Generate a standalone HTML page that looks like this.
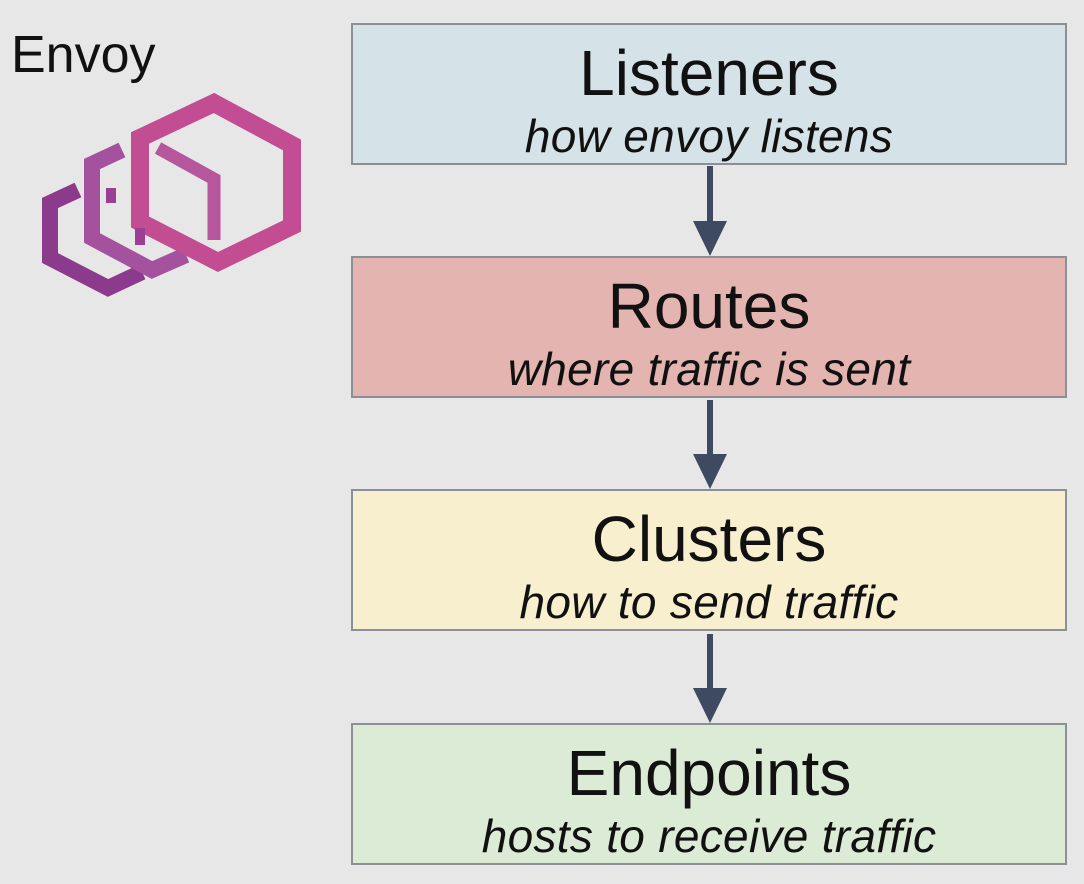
<!DOCTYPE html>
<html><head><meta charset="utf-8"><style>
html,body{margin:0;padding:0;}
body{width:1084px;height:884px;background:#e7e7e7;position:relative;overflow:hidden;font-family:"Liberation Sans",Arial,sans-serif;color:#111;}
.box{position:absolute;left:351px;width:716px;height:142px;border:2px solid #8c9096;box-sizing:border-box;}
.t{position:absolute;left:0;right:0;text-align:center;font-size:64px;line-height:1;}
.s{position:absolute;left:0;right:0;text-align:center;font-size:46px;font-style:italic;letter-spacing:0.3px;line-height:1;}
</style></head><body>
<div style="position:absolute;left:11px;top:29px;font-size:52px;line-height:1;">Envoy</div>
<svg width="1084" height="884" style="position:absolute;left:0;top:0">
 <g fill="none" stroke-linejoin="miter">
  <polyline points="78,190 50,203 50,258 108,288 142,272" stroke="#8c3a8c" stroke-width="16"/>
  <polyline points="122,150 92,164 92,238 152,270 186,255" stroke="#a4519e" stroke-width="16"/>
  <polygon points="214,103 292,145 292,226 218,262 140,222 140,138" stroke="#c24d93" stroke-width="18"/>
  <polyline points="158,148 214,179 214,240" stroke="#b6579e" stroke-width="13"/>
  <line x1="111" y1="188" x2="111" y2="203" stroke="#9a3f94" stroke-width="10"/>
  <line x1="140" y1="228" x2="140" y2="245" stroke="#9a3f94" stroke-width="10"/>
 </g>
 <g fill="#3e4a61">
  <rect x="707" y="166" width="6" height="60"/><polygon points="693,221 727,221 710,256"/>
  <rect x="707" y="400" width="6" height="60"/><polygon points="693,454 727,454 710,489"/>
  <rect x="707" y="634" width="6" height="60"/><polygon points="693,688 727,688 710,723"/>
 </g>
</svg>
<div class="box" style="top:23px;background:#d5e3e8;"><div class="t" style="top:16px;">Listeners</div><div class="s" style="top:88px;">how envoy listens</div></div>
<div class="box" style="top:256px;background:#e3b4b0;"><div class="t" style="top:16px;">Routes</div><div class="s" style="top:88px;">where traffic is sent</div></div>
<div class="box" style="top:489px;background:#f8efcf;"><div class="t" style="top:16px;">Clusters</div><div class="s" style="top:88px;">how to send traffic</div></div>
<div class="box" style="top:723px;background:#dcebd5;"><div class="t" style="top:16px;">Endpoints</div><div class="s" style="top:88px;">hosts to receive traffic</div></div>
</body></html>
